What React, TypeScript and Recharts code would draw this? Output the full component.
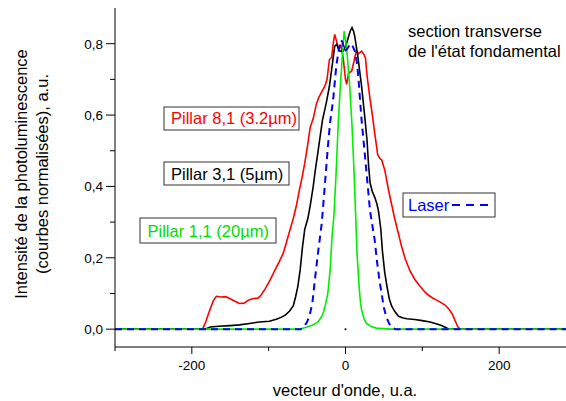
import { LineChart, Line, XAxis, YAxis, ReferenceDot } from "recharts";

// [vecteur d'onde, intensité]
const pillar81: [number, number][] = [
  [-300, 0], [-250, 0], [-200, 0], [-186, 0], [-182, 0.02], [-178, 0.045], [-172, 0.08], [-168, 0.092],
  [-162, 0.09], [-156, 0.091], [-150, 0.085], [-144, 0.078], [-138, 0.072], [-132, 0.073], [-126, 0.082],
  [-120, 0.086], [-114, 0.087], [-110, 0.095], [-104, 0.115], [-98, 0.138], [-92, 0.165], [-86, 0.19],
  [-81, 0.213], [-76, 0.25], [-72, 0.28], [-68, 0.31], [-64, 0.345], [-60, 0.39], [-57, 0.42], [-53, 0.465],
  [-49, 0.52], [-46, 0.565], [-42, 0.59], [-38, 0.63], [-35, 0.648], [-31, 0.665], [-27, 0.68], [-24, 0.7],
  [-21, 0.755], [-18, 0.762], [-16, 0.8], [-14, 0.826], [-12, 0.81], [-9, 0.785], [-6, 0.795], [-3, 0.76],
  [0, 0.7], [1.5, 0.686], [4, 0.718], [8, 0.723], [11, 0.75], [14, 0.779], [17, 0.772], [21, 0.779],
  [24, 0.77], [26, 0.76], [28, 0.712], [32, 0.644], [35, 0.6], [38, 0.55], [42, 0.488], [45, 0.478],
  [47, 0.475], [51, 0.447], [56, 0.39], [60, 0.35], [64, 0.31], [68, 0.275], [73, 0.232], [78, 0.195],
  [84, 0.163], [90, 0.14], [97, 0.12], [103, 0.105], [108, 0.095], [113, 0.088], [118, 0.082], [124, 0.075],
  [130, 0.067], [135, 0.055], [139, 0.042], [143, 0.022], [146, 0.007], [149, 0], [200, 0], [287, 0],
];

const pillar31: [number, number][] = [
  [-300, 0], [-183, 0], [-176, 0.006], [-165, 0.008], [-150, 0.01], [-138, 0.012], [-125, 0.016],
  [-112, 0.02], [-99, 0.022], [-90, 0.028], [-84, 0.033], [-78, 0.04], [-73, 0.05], [-68, 0.065],
  [-65, 0.09], [-62, 0.12], [-59, 0.166], [-56, 0.23], [-53, 0.28], [-49, 0.31], [-46, 0.345], [-42, 0.4],
  [-39, 0.45], [-36, 0.494], [-33, 0.54], [-30, 0.585], [-25, 0.634], [-21, 0.68], [-18, 0.728],
  [-14, 0.793], [-11.5, 0.798], [-9, 0.785], [-7, 0.779], [-3, 0.779], [1, 0.798], [4, 0.82], [6, 0.835],
  [8.5, 0.845], [10.5, 0.835], [12, 0.821], [16, 0.765], [21, 0.68], [25, 0.597], [28, 0.53], [30, 0.46],
  [32, 0.41], [35, 0.385], [38, 0.37], [41, 0.35], [43, 0.33], [46, 0.28], [48, 0.22], [51, 0.16],
  [54, 0.12], [57, 0.085], [60, 0.065], [64, 0.05], [69, 0.036], [75, 0.031], [80, 0.029], [90, 0.027],
  [100, 0.024], [110, 0.02], [118, 0.015], [125, 0.01], [131, 0.004], [135, 0], [287, 0],
];

const pillar11: [number, number][] = [
  [-300, 0], [-60, 0], [-50, 0.006], [-42, 0.012], [-36, 0.02], [-32, 0.032], [-29, 0.045], [-26, 0.07],
  [-23, 0.1], [-20, 0.166], [-17.5, 0.26], [-15, 0.32], [-12, 0.447], [-9.5, 0.575], [-7, 0.67],
  [-5, 0.735], [-3, 0.8], [-1.8, 0.835], [0, 0.81], [2, 0.775], [5.5, 0.68], [8.5, 0.57], [11, 0.447],
  [13.4, 0.307], [15, 0.213], [17.7, 0.12], [19.5, 0.075], [21, 0.054], [24, 0.03], [27, 0.017],
  [33, 0.008], [40, 0.003], [58, 0], [287, 0],
];

const laser: [number, number][] = [
  [-300, 0], [-58, 0], [-55, 0.005], [-50, 0.02], [-46, 0.045], [-43, 0.075], [-40, 0.135], [-36, 0.21],
  [-31, 0.295], [-27, 0.4], [-23, 0.51], [-20, 0.58], [-16, 0.645], [-12, 0.737], [-9, 0.78], [-6, 0.81],
  [-4, 0.805], [-1, 0.779], [2, 0.785], [5, 0.795], [8, 0.8], [12, 0.78], [15, 0.745], [17, 0.7],
  [19, 0.64], [21, 0.585], [25, 0.494], [29, 0.4], [32, 0.33], [35, 0.29], [38, 0.25], [41, 0.19],
  [44, 0.14], [47, 0.1], [50, 0.06], [53, 0.035], [57, 0.015], [60, 0.006], [65, 0], [287, 0],
];

const xTicks = [-300, -200, -100, 0, 100, 200];
const topTicks = [-200, -100, 0, 100, 200];
const yTicks = [0, 0.1, 0.2, 0.3, 0.4, 0.5, 0.6, 0.7, 0.8];

const toPoints = (pts: [number, number][]) => pts.map(([x, y]) => ({ x, y }));

const font = "'Liberation Sans', Arial, sans-serif";

function YTick({ x, y, payload }: any) {
  const v = payload.value;
  const major = Math.round(v * 10) % 2 === 0;
  return (
    <g>
      <line x1={x - (major ? 9 : 5)} x2={x} y1={y} y2={y} stroke="#000" />
      {major && (
        <text x={x - 12} y={y + 5} textAnchor="end" fontSize={13.5} fontFamily={font} fill="#000">
          {v.toFixed(1).replace(".", ",")}
        </text>
      )}
    </g>
  );
}

function XTick({ x, y, payload }: any) {
  const v = payload.value;
  const major = v % 200 === 0;
  return (
    <g>
      <line x1={x} x2={x} y1={y} y2={y + (major ? 7 : 4)} stroke="#000" />
      {major && (
        <text x={x} y={y + 23} textAnchor="middle" fontSize={13.5} fontFamily={font} fill="#000">
          {String(v)}
        </text>
      )}
    </g>
  );
}

function TopTick({ x, y }: any) {
  return <line x1={x} x2={x} y1={y} y2={y + 7} stroke="#000" />;
}

function Box({ x, y, w, h }: { x: number; y: number; w: number; h: number }) {
  return <rect x={x} y={y} width={w} height={h} fill="#fff" stroke="#333" strokeWidth={1} />;
}

export default function App() {
  return (
    <div style={{ position: "absolute", left: 0, top: 0, width: 566, height: 401, background: "#fff" }}>
      <LineChart width={566} height={401} margin={{ top: 8, right: 0, bottom: 0, left: 0 }}>
        <XAxis
          dataKey="x"
          type="number"
          domain={[-300, 287]}
          allowDataOverflow
          ticks={xTicks}
          interval={0}
          height={54}
          tickSize={0}
          tickMargin={0}
          tickLine={false}
          tick={<XTick />}
          axisLine={{ stroke: "#000" }}
        />
        <XAxis
          xAxisId="top"
          orientation="top"
          dataKey="x"
          type="number"
          domain={[-300, 287]}
          allowDataOverflow
          ticks={topTicks}
          interval={0}
          height={0}
          tickSize={0}
          tickMargin={0}
          tickLine={false}
          tick={<TopTick />}
          axisLine={{ stroke: "#000" }}
        />
        <YAxis
          type="number"
          domain={[-0.05, 0.9]}
          allowDataOverflow
          ticks={yTicks}
          interval={0}
          width={115}
          tickSize={0}
          tickMargin={0}
          tickLine={false}
          tick={<YTick />}
          axisLine={{ stroke: "#000" }}
        />
        <ReferenceDot x={0} y={0} r={1} fill="#000" stroke="none" />
        <Line data={toPoints(pillar81)} dataKey="y" stroke="#ff0000" strokeWidth={1.6} dot={false} isAnimationActive={false} />
        <Line data={toPoints(pillar31)} dataKey="y" stroke="#000000" strokeWidth={1.6} dot={false} isAnimationActive={false} />
        <Line data={toPoints(pillar11)} dataKey="y" stroke="#00ee00" strokeWidth={1.6} dot={false} isAnimationActive={false} />
        <Line data={toPoints(laser)} dataKey="y" stroke="#0000ff" strokeWidth={2} strokeDasharray="7 5" dot={false} isAnimationActive={false} />
      </LineChart>
      <svg width={566} height={401} style={{ position: "absolute", left: 0, top: 0, pointerEvents: "none" }} fontFamily={font}>
        <g transform="translate(27,174) rotate(-90)">
          <text x={0} y={0} textAnchor="middle" fontSize={16.5} fill="#000">Intensité de la photoluminescence</text>
          <text x={0} y={21} textAnchor="middle" fontSize={16.5} fill="#000">(courbes normalisées), a.u.</text>
        </g>
        <text x={345} y={396} textAnchor="middle" fontSize={16.5} fill="#000">vecteur d'onde, u.a.</text>
        <text x={408} y={37} fontSize={16.5} fill="#000">section transverse</text>
        <text x={408} y={57} fontSize={16.5} fill="#000">de l'état fondamental</text>

        <Box x={164} y={107} w={135} h={23} />
        <text x={171} y={124} fontSize={16.5} fill="#ff0000">Pillar 8,1 (3.2µm)</text>
        <Box x={164} y={162} w={125} h={23} />
        <text x={171} y={179.5} fontSize={16.5} fill="#000">Pillar 3,1 (5µm)</text>
        <Box x={140} y={218} w={136} h={25} />
        <text x={147.5} y={236.5} fontSize={16.5} fill="#00dd00">Pillar 1,1 (20µm)</text>
        <Box x={403} y={193} w={92} h={24} />
        <text x={408} y={211} fontSize={16.5} fill="#0000ff">Laser</text>
        <line x1={452} x2={494} y1={205} y2={205} stroke="#0000ff" strokeWidth={2} strokeDasharray="8 6" />
      </svg>
    </div>
  );
}
